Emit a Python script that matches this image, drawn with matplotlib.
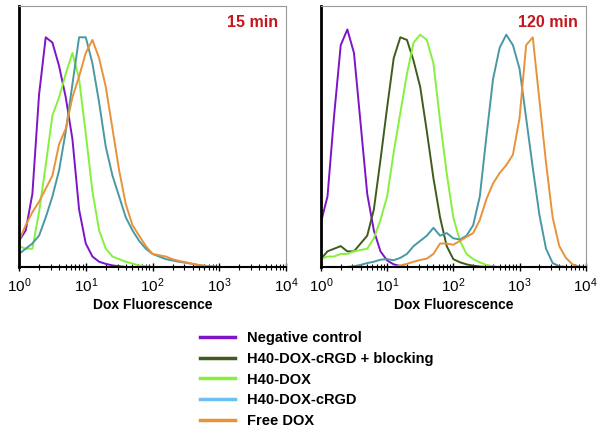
import numpy as np
import matplotlib
matplotlib.use('Agg')
import matplotlib.pyplot as plt
from matplotlib.lines import Line2D

plt.rcParams['font.family'] = ['Liberation Sans', 'DejaVu Sans']
plt.rcParams['mathtext.fontset'] = 'custom'
plt.rcParams['mathtext.rm'] = 'Liberation Sans'
plt.rcParams['mathtext.it'] = 'Liberation Sans:italic'
plt.rcParams['mathtext.bf'] = 'Liberation Sans:bold'

# log10 of Dox fluorescence, one point every 0.1 decade (0 .. 4)
decades = [0.0, 0.1, 0.2, 0.3, 0.4, 0.5, 0.6, 0.7, 0.8, 0.9,
           1.0, 1.1, 1.2, 1.3, 1.4, 1.5, 1.6, 1.7, 1.8, 1.9,
           2.0, 2.1, 2.2, 2.3, 2.4, 2.5, 2.6, 2.7, 2.8, 2.9,
           3.0, 3.1, 3.2, 3.3, 3.4, 3.5, 3.6, 3.7, 3.8, 3.9, 4.0]

# 15 min panel (cell counts, % of axis height)
neg_15 = [10, 14, 28, 66, 88, 86, 77, 65, 49, 22,
          9, 4, 2, 1.2, 0.6, 0.3, 0, 0, 0, 0,
          0, 0, 0, 0, 0, 0, 0, 0, 0, 0,
          0, 0, 0, 0, 0, 0, 0, 0, 0, 0, 0]
h40_15 = [8, 7, 7, 21, 39, 58, 65, 74, 82, 72,
          51, 29, 14, 7, 4, 3, 2, 1.3, 0.6, 0.3,
          0, 0, 0, 0, 0, 0, 0, 0, 0, 0,
          0, 0, 0, 0, 0, 0, 0, 0, 0, 0, 0]
rgd_15 = [5, 7, 9, 12, 19, 27, 37, 52, 70, 88,
          88, 78, 63, 46, 35, 27, 19, 14, 10, 7,
          5, 4, 3, 2.5, 2, 1.6, 1.2, 0.7, 0.4, 0.2,
          0, 0, 0, 0, 0, 0, 0, 0, 0, 0, 0]
free_15 = [10, 16, 21, 25, 30, 35, 47, 53, 65, 73,
           82, 87, 80, 69, 53, 37, 24, 16, 12, 8,
           5, 4.5, 4, 3, 2.3, 1.8, 1.2, 0.7, 0.4, 0.2,
           0, 0, 0, 0, 0, 0, 0, 0, 0, 0, 0]

# 120 min panel
neg_120 = [17, 27, 58, 85, 91, 82, 55, 28, 14, 6,
           2.5, 1, 0.4, 0, 0, 0, 0, 0, 0, 0,
           0, 0, 0, 0, 0, 0, 0, 0, 0, 0,
           0, 0, 0, 0, 0, 0, 0, 0, 0, 0, 0]
block_120 = [3, 6, 7, 8, 6, 6, 9, 12, 22, 41,
             61, 80, 88, 87, 79, 69, 52, 34, 19, 8,
             3, 1.8, 1, 0.5, 0.2, 0, 0, 0, 0, 0,
             0, 0, 0, 0, 0, 0, 0, 0, 0, 0, 0]
h40_120 = [3, 4, 4, 5, 5, 6, 6.5, 7, 11, 18,
           27, 44, 59, 74, 86, 89, 87, 78, 56, 36,
           19, 10, 5, 3, 1.8, 0.8, 0.3, 0, 0, 0,
           0, 0, 0, 0, 0, 0, 0, 0, 0, 0, 0]
rgd_120 = [0, 0, 0, 0, 0, 0.3, 0.8, 1.5, 2, 2.8,
           3, 2.6, 3.5, 5, 8, 10, 12, 15, 12, 13,
           11, 10.5, 12, 16, 27, 50, 72, 84, 89, 85,
           76, 57, 38, 20, 7, 1.5, 0.3, 0, 0, 0, 0]
free_120 = [0, 0, 0, 0, 0, 0, 0, 0, 0, 0,
            0, 0, 0.6, 1.2, 2, 2.7, 3.2, 5, 9, 9,
            8.5, 10, 11.5, 13, 18, 26, 32, 36, 39, 43,
            57, 85, 88, 64, 40, 19, 8, 3.5, 1, 0.2, 0]

labels = ['Negative control', 'H40-DOX-cRGD + blocking', 'H40-DOX',
          'H40-DOX-cRGD', 'Free DOX']
colors = ['#7d14c8', '#3e5c1c', '#86f03c', '#4a98a2', '#e8923a']
legend_colors = ['#7d14c8', '#3e5c1c', '#86f03c', '#6cc0f2', '#e8923a']

x = 10 ** np.array(decades)

fig = plt.figure(figsize=(6.02, 4.33), dpi=100)
ax1 = fig.add_axes([0.0316, 0.3834, 0.4435, 0.6028])
ax2 = fig.add_axes([0.533, 0.3834, 0.440, 0.6028])

panels = [
    (ax1, '15 min', [(neg_15, 0), (h40_15, 2), (rgd_15, 3), (free_15, 4)]),
    (ax2, '120 min', [(neg_120, 0), (block_120, 1), (h40_120, 2),
                      (rgd_120, 3), (free_120, 4)]),
]

for ax, title, curves in panels:
    for vals, ci in curves:
        ax.plot(x, vals, color=colors[ci], lw=1.4)
    ax.set_xscale('log')
    ax.set_xlim(1, 1e4)
    ax.set_ylim(0, 100)
    ax.set_yticks([])
    ax.set_xticks([1, 10, 100, 1000, 10000])
    ax.set_xticklabels(['$10^0$', '$10^1$', '$10^2$', '$10^3$', '$10^4$'],
                       fontsize=11)
    ax.tick_params(axis='x', which='major', direction='inout', length=6,
                   width=1, pad=4)
    ax.tick_params(axis='x', which='minor', direction='inout', length=4,
                   width=0.8)
    ax.spines['left'].set_linewidth(2)
    ax.spines['left'].set_color('black')
    ax.spines['bottom'].set_linewidth(1.5)
    ax.spines['top'].set_color('#999999')
    ax.spines['right'].set_color('#999999')
    ax.spines['top'].set_linewidth(0.8)
    ax.spines['right'].set_linewidth(0.8)
    ax.set_xlabel('Dox Fluorescence', fontsize=10, fontweight='bold',
                  labelpad=2)
    ax.text(0.97, 0.965, title, transform=ax.transAxes, ha='right', va='top',
            color='#c4161c', fontsize=11.5, fontweight='bold')

handles = [Line2D([], [], color=c, lw=2.5) for c in legend_colors]
fig.legend(handles, labels, loc='upper left', bbox_to_anchor=(0.323, 0.248),
           frameon=False, handlelength=2.4, handletextpad=0.8,
           labelspacing=0.45, prop={'weight': 'bold', 'size': 10.5},
           borderaxespad=0)

fig.savefig('out.png', dpi=100)
